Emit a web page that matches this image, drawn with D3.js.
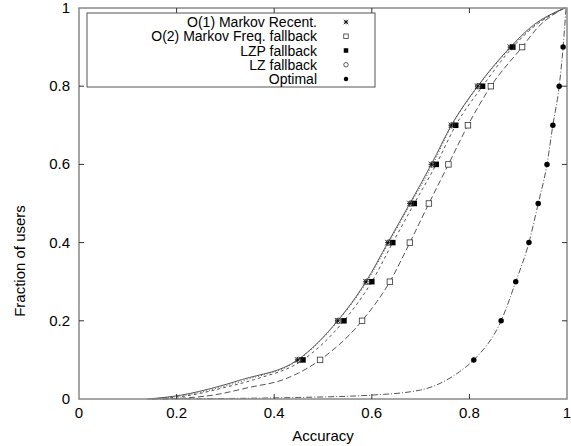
<!DOCTYPE html>
<html>
<head>
  <title>Accuracy CDF</title>
  <style>
    body { margin: 0; background: #fff; }
    text { font-family: "Liberation Sans", Arial, sans-serif; fill: #000; }
  </style>
</head>
<body>
  <svg id="chart"></svg>

  <script src="https://d3js.org/d3.v7.min.js"></script>
  <script>
    // fraction of users at which the four predictors were sampled
    const fracs = [0, 0.01, 0.03, 0.05, 0.1, 0.2, 0.3, 0.4, 0.5, 0.6, 0.7, 0.8, 0.9, 0.95, 1];
    const markovO1 = [0.14, 0.21, 0.28, 0.335, 0.448, 0.530, 0.588, 0.633, 0.678, 0.722, 0.763, 0.817, 0.884, 0.925, 0.995];
    const markovO2 = [0.17, 0.275, 0.35, 0.42, 0.494, 0.580, 0.637, 0.678, 0.717, 0.757, 0.797, 0.844, 0.908, 0.94, 0.995];
    const lzpFallback = [0.15, 0.23, 0.30, 0.36, 0.459, 0.543, 0.600, 0.643, 0.687, 0.732, 0.772, 0.827, 0.889, 0.93, 0.995];
    const lzFallback = [0.145, 0.22, 0.29, 0.345, 0.450, 0.531, 0.590, 0.635, 0.680, 0.725, 0.764, 0.818, 0.886, 0.928, 0.995];

    // optimal curve has its own sampling
    const optFracs = [0, 0.004, 0.01, 0.023, 0.04, 0.07, 0.1, 0.2, 0.3, 0.4, 0.5, 0.6, 0.7, 0.8, 0.9, 1];
    const optimal = [0.15, 0.45, 0.6, 0.7, 0.74, 0.78, 0.809, 0.865, 0.895, 0.922, 0.941, 0.959, 0.971, 0.984, 0.992, 0.998];

    const markFracs = [0.1, 0.2, 0.3, 0.4, 0.5, 0.6, 0.7, 0.8, 0.9];
    const tickValues = [0, 0.2, 0.4, 0.6, 0.8, 1];

    const series = [
      { name: "O(1) Markov Recent.", acc: markovO1, fr: fracs, dash: null, mark: "star" },
      { name: "O(2) Markov Freq. fallback", acc: markovO2, fr: fracs, dash: "6,3", mark: "osquare" },
      { name: "LZP fallback", acc: lzpFallback, fr: fracs, dash: "3,3", mark: "fsquare" },
      { name: "LZ fallback", acc: lzFallback, fr: fracs, dash: "1,2", mark: "ocircle" },
      { name: "Optimal", acc: optimal, fr: optFracs, dash: "6,2,1,2", mark: "fcircle" }
    ];

    const W = 571, H = 446;
    const margin = { top: 8, right: 4, bottom: 47, left: 79 };

    const svg = d3.select("#chart").attr("width", W).attr("height", H);

    const x = d3.scaleLinear().domain([0, 1]).range([margin.left, W - margin.right]);
    const y = d3.scaleLinear().domain([0, 1]).range([H - margin.bottom, margin.top]);

    // curves
    const line = d3.line()
      .x(d => x(d[0]))
      .y(d => y(d[1]))
      .curve(d3.curveMonotoneX);

    series.forEach(s => {
      s.points = s.acc.map((a, i) => [a, s.fr[i]]);
      svg.append("path")
        .datum(s.points)
        .attr("d", line)
        .attr("fill", "none")
        .attr("stroke", "#555")
        .attr("stroke-width", 1)
        .attr("stroke-dasharray", s.dash);
    });

    function drawMark(g, type, cx, cy, sz) {
      const h = sz / 2;
      if (type === "star") {
        g.append("path")
          .attr("d", `M${cx - h},${cy}H${cx + h}M${cx},${cy - h}V${cy + h}M${cx - h},${cy - h}L${cx + h},${cy + h}M${cx - h},${cy + h}L${cx + h},${cy - h}`)
          .attr("stroke", "#000").attr("stroke-width", 0.8);
      } else if (type === "osquare" || type === "fsquare") {
        g.append("rect")
          .attr("x", cx - h).attr("y", cy - h)
          .attr("width", sz).attr("height", sz)
          .attr("fill", type === "fsquare" ? "#000" : "#fff")
          .attr("stroke", type === "fsquare" ? "none" : "#333")
          .attr("stroke-width", 0.8);
      } else {
        g.append("circle")
          .attr("cx", cx).attr("cy", cy).attr("r", h)
          .attr("fill", type === "fcircle" ? "#000" : "none")
          .attr("stroke", type === "fcircle" ? "none" : "#333")
          .attr("stroke-width", 0.8);
      }
    }

    // point markers every 10% of users
    const marks = svg.append("g");
    series.forEach(s => {
      s.points.filter(p => markFracs.some(f => Math.abs(f - p[1]) < 1e-9))
        .forEach(p => drawMark(marks, s.mark, x(p[0]), y(p[1]), 5.5));
    });

    // frame
    svg.append("rect")
      .attr("x", x(0)).attr("y", y(1))
      .attr("width", x(1) - x(0)).attr("height", y(0) - y(1))
      .attr("fill", "none").attr("stroke", "#888").attr("stroke-width", 1.5);

    // inward ticks on all four sides
    const tickLen = 5;
    const ticks = svg.append("g").attr("stroke", "#333").attr("stroke-width", 1);
    tickValues.slice(1, -1).forEach(v => {
      ticks.append("line").attr("x1", x(v)).attr("x2", x(v)).attr("y1", y(0)).attr("y2", y(0) - tickLen);
      ticks.append("line").attr("x1", x(v)).attr("x2", x(v)).attr("y1", y(1)).attr("y2", y(1) + tickLen);
      ticks.append("line").attr("y1", y(v)).attr("y2", y(v)).attr("x1", x(0)).attr("x2", x(0) + tickLen);
      ticks.append("line").attr("y1", y(v)).attr("y2", y(v)).attr("x1", x(1)).attr("x2", x(1) - tickLen);
    });

    const fmt = d => d === 0 || d === 1 ? String(d) : d3.format(".1f")(d);

    svg.append("g").selectAll("text")
      .data(tickValues).join("text")
      .attr("x", d => x(d)).attr("y", y(0) + 19)
      .attr("text-anchor", "middle")
      .attr("font-size", 15)
      .text(fmt);

    svg.append("g").selectAll("text")
      .data(tickValues).join("text")
      .attr("x", x(0) - 9).attr("y", d => y(d) + 5)
      .attr("text-anchor", "end")
      .attr("font-size", 15)
      .text(fmt);

    svg.append("text")
      .attr("x", 323).attr("y", 441)
      .attr("text-anchor", "middle")
      .attr("font-size", 15)
      .text("Accuracy");

    svg.append("text")
      .attr("transform", "translate(25,261) rotate(-90)")
      .attr("text-anchor", "middle")
      .attr("font-size", 15)
      .text("Fraction of users");

    // legend
    const legend = svg.append("g");
    legend.append("rect")
      .attr("x", 87).attr("y", 13).attr("width", 288).attr("height", 74)
      .attr("fill", "#fff").attr("stroke", "#555").attr("stroke-width", 1);
    series.forEach((s, i) => {
      const ly = 22 + i * 14.25;
      legend.append("text")
        .attr("x", 317).attr("y", ly + 5)
        .attr("text-anchor", "end")
        .attr("font-size", 14)
        .text(s.name);
      drawMark(legend, s.mark, 346, ly, 4.5);
    });
  </script>
</body>
</html>
